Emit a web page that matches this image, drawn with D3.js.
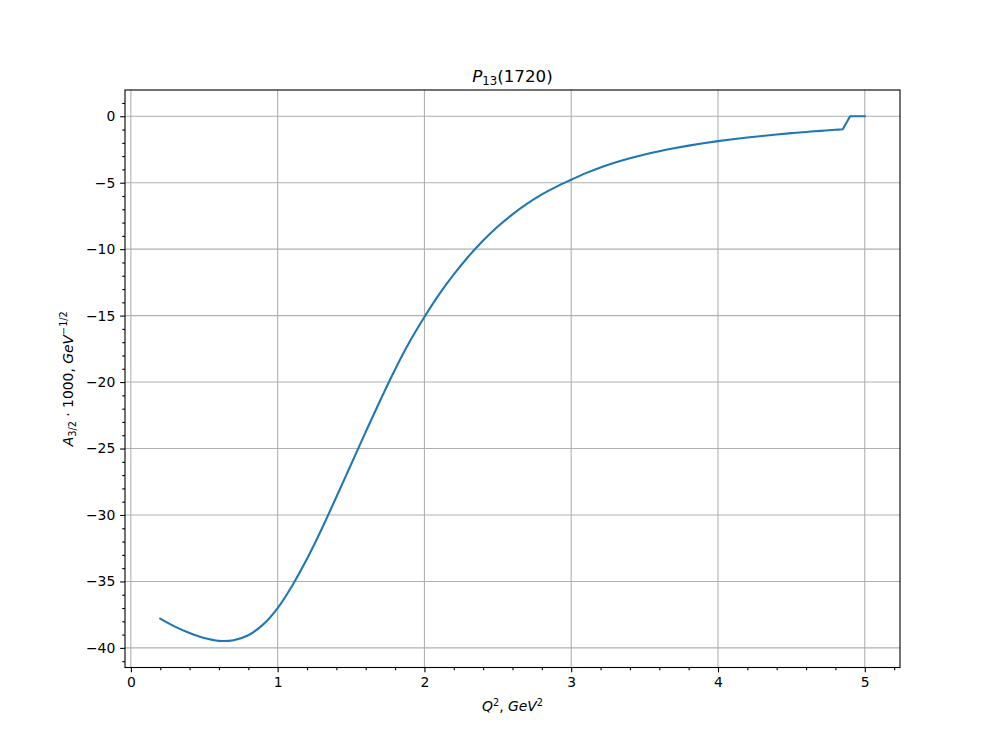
<!DOCTYPE html>
<html>
<head>
<meta charset="utf-8">
<script src="https://cdn.jsdelivr.net/npm/d3@7"></script>
<style>
  body { margin: 0; background: #fff; }
  svg { display: block; }
  text { font-family: "DejaVu Sans", sans-serif; fill: #000; }
</style>
</head>
<body>
<svg id="chart" width="1000" height="750"></svg>
<script>
// Data
const q2 = [0.2, 0.3, 0.4, 0.5, 0.6, 0.7, 0.8, 0.9, 1.0, 1.1, 1.2, 1.3, 1.4, 1.5, 1.6, 1.7, 1.8, 1.9, 2.0,
            2.1, 2.2, 2.3, 2.4, 2.5, 2.6, 2.7, 2.8, 2.9, 3.0, 3.1, 3.2, 3.3, 3.4, 3.5, 3.6, 3.7, 3.8, 3.9, 4.0,
            4.1, 4.2, 4.3, 4.4, 4.5, 4.6, 4.7, 4.8, 4.85];
const a32 = [-37.8, -38.4, -38.88, -39.26, -39.47, -39.42, -39.05, -38.25, -37.0, -35.3, -33.3, -31.05, -28.65, -26.2, -23.75, -21.35, -19.05, -16.95, -15.1,
             -13.4, -11.9, -10.55, -9.35, -8.3, -7.38, -6.58, -5.88, -5.29, -4.78, -4.28, -3.85, -3.48, -3.16, -2.88, -2.63, -2.41, -2.21, -2.03, -1.87,
             -1.73, -1.6, -1.48, -1.37, -1.27, -1.18, -1.1, -1.02, -0.98];
// tail segment (drawn with straight lines)
const q2Tail = [4.85, 4.9, 5.0];
const a32Tail = [-0.98, 0, 0];

const xTicks = [0, 1, 2, 3, 4, 5];
const yTicks = [-40, -35, -30, -25, -20, -15, -10, -5, 0];

const svg = d3.select("#chart");
const L = 125, R = 900, T = 90, B = 667.5;

const x = d3.scaleLinear().domain([-0.04, 5.24]).range([L, R]);
const y = d3.scaleLinear().domain([-41.475, 1.975]).range([B, T]);

const fmt = v => (v < 0 ? "\u2212" + Math.abs(v) : String(v));

// grid
const grid = svg.append("g");
xTicks.forEach(t => grid.append("line")
  .attr("x1", x(t)).attr("x2", x(t)).attr("y1", T).attr("y2", B)
  .attr("stroke", "#b0b0b0").attr("stroke-width", 1.1));
yTicks.forEach(t => grid.append("line")
  .attr("x1", L).attr("x2", R).attr("y1", y(t)).attr("y2", y(t))
  .attr("stroke", "#b0b0b0").attr("stroke-width", 1.1));

// data line
const pts = q2.map((d, i) => [d, a32[i]]);
const tail = q2Tail.map((d, i) => [d, a32Tail[i]]);
const lineSmooth = d3.line().x(d => x(d[0])).y(d => y(d[1])).curve(d3.curveCatmullRom.alpha(0.5));
const lineLin = d3.line().x(d => x(d[0])).y(d => y(d[1]));
svg.append("path").attr("d", lineSmooth(pts) + lineLin(tail).replace(/^M/, "L"))
  .attr("fill", "none").attr("stroke", "#1f77b4").attr("stroke-width", 2.08)
  .attr("stroke-linejoin", "round").attr("stroke-linecap", "square");

// axes
const xAxis = d3.axisBottom(x).tickValues(xTicks).tickFormat(fmt).tickSize(4.86).tickPadding(4.86);
const yAxis = d3.axisLeft(y).tickValues(yTicks).tickFormat(fmt).tickSize(4.86).tickPadding(4.86);
svg.append("g").attr("transform", `translate(0,${B})`).call(xAxis);
svg.append("g").attr("transform", `translate(${L},0)`).call(yAxis);

const xMinor = d3.range(1, 27).map(i => +(i * 0.2).toFixed(2)).filter(v => Math.abs(v - Math.round(v)) > 1e-6 && v <= 5.24);
const yMinor = d3.range(-41, 2).filter(v => v % 5 !== 0);
svg.append("g").attr("transform", `translate(0,${B})`)
  .call(d3.axisBottom(x).tickValues(xMinor).tickFormat("").tickSize(2.78));
svg.append("g").attr("transform", `translate(${L},0)`)
  .call(d3.axisLeft(y).tickValues(yMinor).tickFormat("").tickSize(2.78));

svg.selectAll(".domain").remove();
svg.selectAll(".tick line").attr("stroke", "#000").attr("stroke-width", 1.1);
svg.selectAll(".tick text").style("font-family", "'DejaVu Sans', sans-serif").style("font-size", "13.9px");

// spines
svg.append("rect").attr("x", L).attr("y", T).attr("width", R - L).attr("height", B - T)
  .attr("fill", "none").attr("stroke", "#000").attr("stroke-width", 1.1);

// title
const title = svg.append("text").attr("x", (L + R) / 2).attr("y", 81.5)
  .attr("text-anchor", "middle").style("font-size", "16.7px");
title.append("tspan").style("font-style", "italic").text("P");
title.append("tspan").attr("dy", 3.5).style("font-size", "11.7px").text("13");
title.append("tspan").attr("dy", -3.5).text("(1720)");

// x label
const xl = svg.append("text").attr("x", (L + R) / 2).attr("y", 711)
  .attr("text-anchor", "middle").style("font-size", "13.9px");
xl.append("tspan").style("font-style", "italic").text("Q");
xl.append("tspan").attr("dy", -5.5).style("font-size", "9.7px").text("2");
xl.append("tspan").attr("dy", 5.5).text(", ");
xl.append("tspan").style("font-style", "italic").text("GeV");
xl.append("tspan").attr("dy", -5.5).style("font-size", "9.7px").text("2");

// y label
const yl = svg.append("text").attr("transform", `translate(72.5,${(T + B) / 2}) rotate(-90)`)
  .attr("text-anchor", "middle").style("font-size", "13.9px");
yl.append("tspan").style("font-style", "italic").text("A");
yl.append("tspan").attr("dy", 3).style("font-size", "9.7px").text("3/2");
yl.append("tspan").attr("dy", -3).text(" \u00B7 1000, ");
yl.append("tspan").style("font-style", "italic").text("GeV");
yl.append("tspan").attr("dy", -5.5).style("font-size", "9.7px").text("\u22121/2");
</script>
</body>
</html>
